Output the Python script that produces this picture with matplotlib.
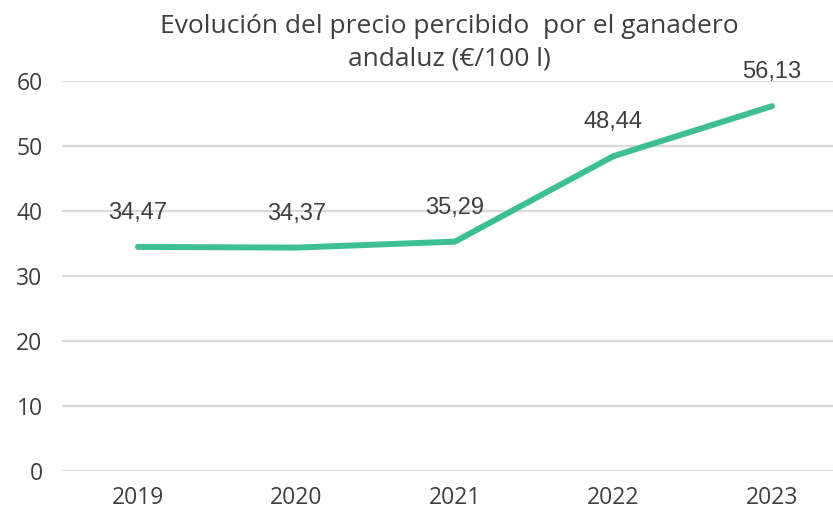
import matplotlib
matplotlib.use("Agg")
import matplotlib.pyplot as plt

# Datos
years = ["2019", "2020", "2021", "2022", "2023"]
precio = [34.47, 34.37, 35.29, 48.44, 56.13]

plt.rcParams['font.family'] = ['Open Sans', 'DejaVu Sans']
gris = '#3f3f3f'
verde = '#3dbf93'

fig = plt.figure(figsize=(8.33, 5.12), dpi=100)
# área de trazado en píxeles: x 62..833, y 81..471
ax = fig.add_axes([62 / 833, 1 - 471 / 512, (833 - 62) / 833, (471 - 81) / 512])

x = list(range(len(years)))
ax.plot(x, precio, color=verde, linewidth=4.3, solid_capstyle='round', zorder=3)

# etiquetas de datos (Arial-like), ~34 px por encima del punto
for xi, v in zip(x, precio):
    ax.annotate(f"{v:.2f}".replace('.', ','), (xi, v), xytext=(0, 24.5),
                textcoords='offset points', ha='center', va='center',
                fontsize=17, color=gris, family=['Liberation Sans', 'DejaVu Sans'])

ax.set_ylim(0, 60)
ax.set_yticks(range(0, 61, 10))
ax.set_xlim(-0.479, 4.385)
ax.set_xticks(x)
ax.set_xticklabels(years)
ax.grid(axis='y', color='#d9d9d9', linewidth=1.6)
ax.set_axisbelow(True)
for s in ax.spines.values():
    s.set_visible(False)
ax.tick_params(axis='both', length=0, labelsize=16.5, labelcolor=gris)
ax.tick_params(axis='y', pad=14)
ax.tick_params(axis='x', pad=11)

fig.text(449 / 833, 1 - 33 / 512, "Evolución del precio percibido  por el ganadero",
         ha='center', va='baseline', fontsize=19, color=gris)
fig.text(449 / 833, 1 - 66 / 512, "andaluz (€/100 l)",
         ha='center', va='baseline', fontsize=19, color=gris)

fig.savefig("out.png", dpi=100)
